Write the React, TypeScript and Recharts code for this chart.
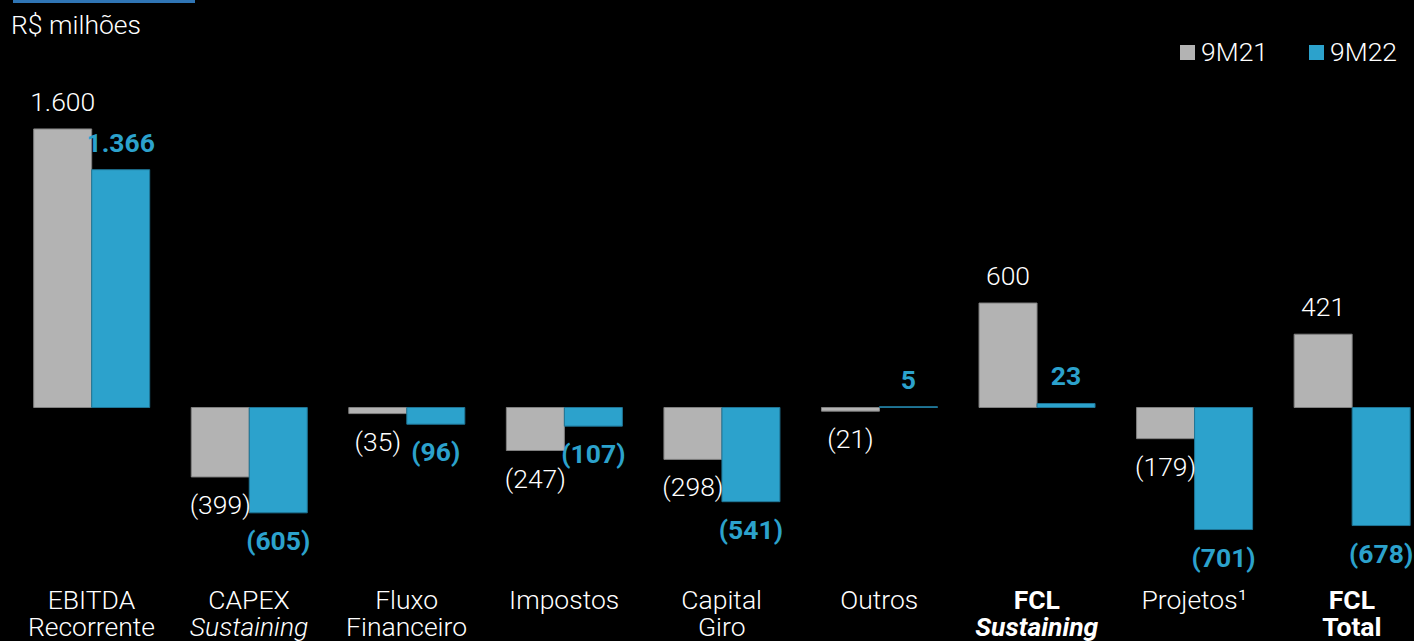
import { Bar, BarChart, LabelList, XAxis, YAxis } from "recharts";

const categories = [
  "EBITDA Recorrente",
  "CAPEX Sustaining",
  "Fluxo Financeiro",
  "Impostos",
  "Capital Giro",
  "Outros",
  "FCL Sustaining",
  "Projetos¹",
  "FCL Total",
];

const values9M21 = [1600, -399, -35, -247, -298, -21, 600, -179, 421];
const values9M22 = [1366, -605, -96, -107, -541, 5, 23, -701, -678];

// tick text split in lines
const tickLines: Record<string, string[]> = {
  "EBITDA Recorrente": ["EBITDA", "Recorrente"],
  "CAPEX Sustaining": ["CAPEX", "Sustaining"],
  "Fluxo Financeiro": ["Fluxo", "Financeiro"],
  "Impostos": ["Impostos"],
  "Capital Giro": ["Capital", "Giro"],
  "Outros": ["Outros"],
  "FCL Sustaining": ["FCL", "Sustaining"],
  "Projetos¹": ["Projetos¹"],
  "FCL Total": ["FCL", "Total"],
};

const boldTicks = ["FCL Sustaining", "FCL Total"];
const italicSecondLine = ["CAPEX Sustaining", "FCL Sustaining"];

const GRAY = "#b3b3b3";
const BLUE = "#2ca2cc";
const FONT = "Roboto, 'Noto Sans', sans-serif";
const LIGHT = "'Roboto Light', Roboto, 'Noto Sans', sans-serif";
const FS = 26.5;

const data = categories.map((name, i) => ({
  name,
  a: values9M21[i],
  b: values9M22[i],
}));

function fmt(v: number) {
  const s = String(Math.abs(v)).replace(/\B(?=(\d{3})+(?!\d))/g, ".");
  return v < 0 ? `(${s})` : s;
}

const makeLabel = (color: string, bold: boolean) => (props: any) => {
  const { x, y, width, height, value } = props;
  const top = Math.min(y, y + height);
  const bottom = Math.max(y, y + height);
  const ty = value >= 0 ? top - 18 : bottom + 37;
  return (
    <text
      x={x + width / 2}
      y={ty}
      textAnchor="middle"
      fill={color}
      fontFamily={bold ? FONT : LIGHT}
      fontSize={FS}
      fontWeight={bold ? 700 : 300}
    >
      {fmt(value)}
    </text>
  );
};

const CategoryTick = ({ x, y, payload }: any) => {
  const lines = tickLines[payload.value] || [payload.value];
  const bold = boldTicks.includes(payload.value);
  return (
    <g>
      {lines.map((line, i) => (
        <text
          key={i}
          x={x}
          y={y + 27.5 + i * 27}
          textAnchor="middle"
          fill="#ffffff"
          fontFamily={bold ? FONT : LIGHT}
          fontSize={FS}
          fontWeight={bold ? 700 : 300}
          fontStyle={i === 1 && italicSecondLine.includes(payload.value) ? "italic" : "normal"}
        >
          {line}
        </text>
      ))}
    </g>
  );
};

export default function App() {
  return (
    <div
      style={{
        position: "fixed",
        left: 0,
        top: 0,
        width: 1414,
        height: 641,
        overflow: "hidden",
        background: "#000",
        fontFamily: LIGHT,
      }}
    >
      <div style={{ position: "absolute", left: 13, top: 0, width: 182, height: 3, background: "#2f75b5" }} />
      <div style={{ position: "absolute", left: 11, top: 9, fontSize: FS, fontWeight: 300, color: "#fff", lineHeight: "32px" }}>
        R$ milhões
      </div>
      <div style={{ position: "absolute", left: 1180, top: 36, display: "flex", alignItems: "center", color: "#fff", fontSize: FS, fontWeight: 300, lineHeight: "32px" }}>
        <span style={{ width: 15, height: 15, background: GRAY, display: "inline-block", marginRight: 6 }} />
        <span style={{ marginRight: 41 }}>9M21</span>
        <span style={{ width: 15, height: 15, background: BLUE, display: "inline-block", marginRight: 6 }} />
        <span>9M22</span>
      </div>
      <BarChart
        width={1431}
        height={641}
        data={data}
        barGap={0}
        margin={{ top: 59.3, right: 0.3, bottom: 0, left: 12.7 }}
        style={{ position: "absolute", left: 0, top: 0 }}
      >
        <XAxis
          dataKey="name"
          axisLine={false}
          tickLine={false}
          tickSize={0}
          tickMargin={0}
          height={59.4}
          interval={0}
          tick={<CategoryTick />}
        />
        <YAxis hide domain={[-1000, 2000]} allowDataOverflow />
        <Bar dataKey="a" fill={GRAY} stroke="#808080" strokeWidth={1} barSize={58} isAnimationActive={false}>
          <LabelList dataKey="a" content={makeLabel("#ffffff", false)} />
        </Bar>
        <Bar dataKey="b" fill={BLUE} stroke="#1f7596" strokeWidth={1} barSize={58} isAnimationActive={false}>
          <LabelList dataKey="b" content={makeLabel(BLUE, true)} />
        </Bar>
      </BarChart>
    </div>
  );
}
